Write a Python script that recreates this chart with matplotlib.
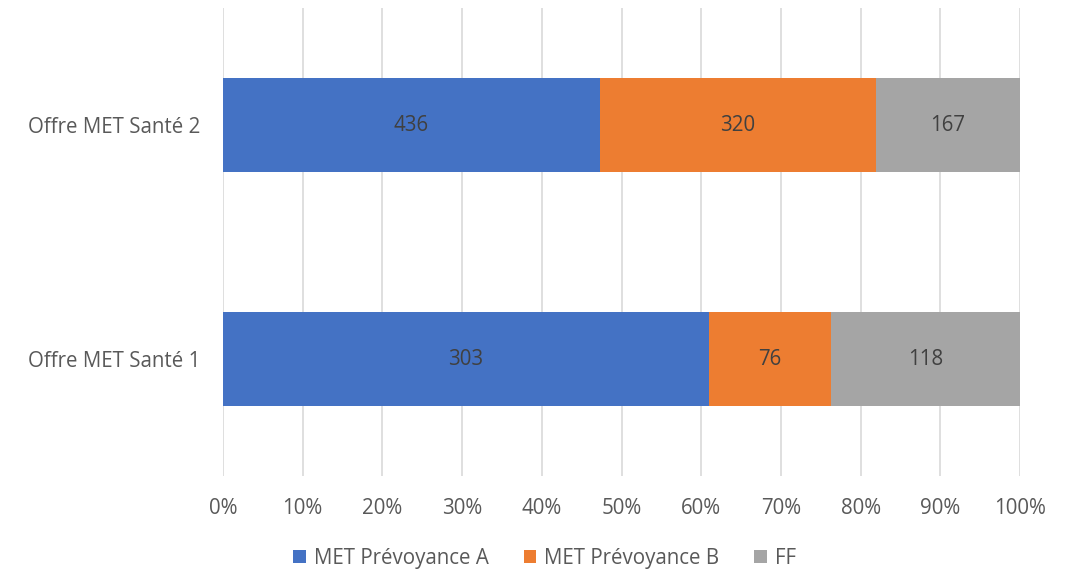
import numpy as np
import matplotlib.pyplot as plt
from matplotlib.ticker import PercentFormatter

# data
categories = ['Offre MET Santé 1', 'Offre MET Santé 2']
series_names = ['MET Prévoyance A', 'MET Prévoyance B', 'FF']
prev_a = [303, 436]
prev_b = [76, 320]
ff = [118, 167]
colors = ['#4472c4', '#ed7d31', '#a5a5a5']

plt.rcParams['font.family'] = ['Open Sans', 'DejaVu Sans']
txt = '#595959'
fs = 14.8

fig = plt.figure(figsize=(10.68, 5.72), dpi=100)
ax = fig.add_axes([0.2088, 0.1678, 0.9551 - 0.2088, 0.986 - 0.1678])

counts = np.array([prev_a, prev_b, ff], dtype=float)
totals = counts.sum(axis=0)
shares = counts / totals * 100
y = np.arange(len(categories))
left = np.zeros(len(categories))
for i, name in enumerate(series_names):
    bars = ax.barh(y, shares[i], left=left, height=0.4, color=colors[i],
                   label=name, zorder=2)
    for j, b in enumerate(bars):
        ax.text(left[j] + shares[i][j] / 2, y[j], '%d' % counts[i][j],
                ha='center', va='center', color='#404040', fontsize=fs)
    left += shares[i]

ax.set_xlim(0, 100)
ax.set_ylim(-0.5, 1.5)
ax.set_xticks(np.arange(0, 101, 10))
ax.xaxis.set_major_formatter(PercentFormatter(decimals=0))
ax.set_yticks(y)
ax.set_yticklabels(categories)
ax.grid(axis='x', color='#d9d9d9', linewidth=1.2, zorder=0)
for s in ax.spines.values():
    s.set_visible(False)
ax.tick_params(length=0, labelsize=fs, colors=txt)
ax.tick_params(axis='x', pad=16)
ax.tick_params(axis='y', pad=16)

fig.legend(loc='center', bbox_to_anchor=(0.51, 0.024), ncol=3, frameon=False,
           fontsize=fs, labelcolor=txt, handlelength=0.6, handleheight=0.6,
           handletextpad=0.4, columnspacing=1.7)

fig.savefig('out.png', dpi=100)
